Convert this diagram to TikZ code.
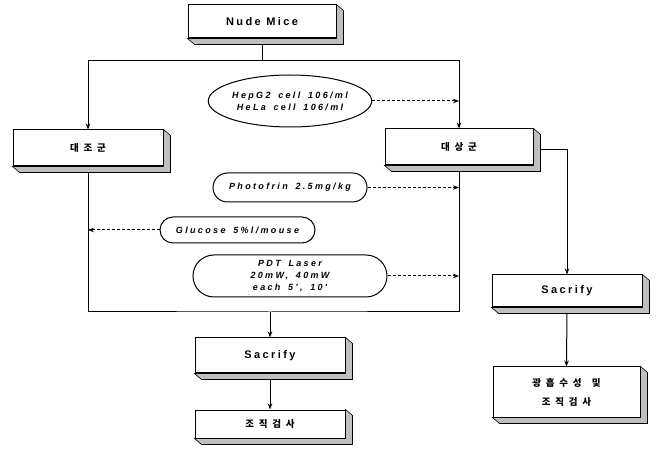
\documentclass[tikz,border=0pt]{standalone}
\usepackage{fontspec}
\setmainfont{Liberation Sans}
\newfontfamily\boxfont{Liberation Sans}[LetterSpace=22]
\newfontfamily\notefont{Liberation Sans}[LetterSpace=26,WordSpace=1.6]
\newfontfamily\korfont{Noto Sans CJK KR}[LetterSpace=50,WordSpace=1.5]
\usetikzlibrary{arrows.meta,shapes.geometric,shapes.misc}

\tikzset{
  procbox/.style={draw, line width=1pt, fill=white, minimum width=150pt,
    minimum height=34pt, inner sep=0pt, font=\boxfont\bfseries\fontsize{11}{13}\selectfont},
  korbox/.style={procbox, align=center, font=\korfont\bfseries\fontsize{9.5}{19}\selectfont},
  note/.style={draw, line width=1pt, rounded rectangle, inner sep=0pt, align=center,
    font=\notefont\bfseries\itshape\fontsize{9}{12}\selectfont},
  flow/.style={line width=1pt, -{Stealth[length=6pt,width=4.5pt]}},
  feed/.style={flow, densely dashed},
  depth/.style={fill=gray!50, draw, line width=0.6pt},
}
% 3D side and bottom of a box
\newcommand\extrude[1]{%
  \filldraw[depth] (#1.south west) -- ++(7,6) -- ([shift={(7,6)}]#1.south east)
    -- ([shift={(7,6)}]#1.north east) -- (#1.north east) -- (#1.south east) -- cycle;}

\begin{document}
\begin{tikzpicture}[x=1pt,y=-1pt]
  \useasboundingbox (0,0) rectangle (659,454);
  % Boxes
  \node[procbox, minimum width=148pt, minimum height=33pt] (nude) at (262,21.5) {Nude Mice};
  \node[korbox, minimum height=36pt] (ctrl) at (88,148) {대조군};
  \node[korbox, minimum width=148pt, minimum height=36pt] (trt) at (459,147) {대상군};
  \node[procbox, minimum height=35pt] (sacL) at (270,355.5) {Sacrify};
  \node[korbox, minimum height=28pt] (bioL) at (270,424) {조직검사};
  \node[procbox, minimum height=32pt] (sacR) at (567,291) {Sacrify};
  \node[korbox, minimum width=147pt, minimum height=50pt] (absR) at (566.5,392) {광흡수성 및\\조직검사};
  % Treatments
  \node[note, ellipse, minimum width=154pt, minimum height=52pt] (hep) at (290,101)
    {HepG2 cell 106/ml\\HeLa cell 106/ml};
  \node[note, minimum width=154pt, minimum height=29pt] (photo) at (290,187.5) {Photofrin 2.5mg/kg};
  \node[note, minimum width=155pt, minimum height=26pt] (gluc) at (237.5,230) {Glucose 5\%l/mouse};
  \node[note, minimum width=194pt, minimum height=42pt] (pdt) at (290,276)
    {PDT Laser\\20mW, 40mW\\each 5', 10'};
  % Main flow
  \coordinate (split) at (nude.south |- 0,61);
  \draw[line width=1pt] (nude.south) -- (split);
  \draw[flow] (split) -| (ctrl.north);
  \draw[flow] (split) -| (trt.north);
  \coordinate (join) at (sacL.north |- 0,312);
  \draw[line width=1pt] (ctrl.south) |- (join) -| (trt.south);
  \draw[flow] (join) -- (sacL.north);
  \draw[flow] (sacL.south) -- (bioL.north);
  \draw[flow] ([yshift=-3pt]trt.east) -| (sacR.north);
  \draw[flow] (sacR.south) -- (absR.north);
  % Dashed inputs
  \draw[feed] (hep.east) -- (trt.north |- hep.east);
  \draw[feed] (photo.east) -- (trt.south |- photo.east);
  \draw[feed] (gluc.west) -- (ctrl.south |- gluc.west);
  \draw[feed] (pdt.east) -- (trt.south |- pdt.east);
  % Box depth
  \foreach \b in {nude,ctrl,trt,sacL,bioL,sacR,absR} {\extrude{\b}}
\end{tikzpicture}
\end{document}
